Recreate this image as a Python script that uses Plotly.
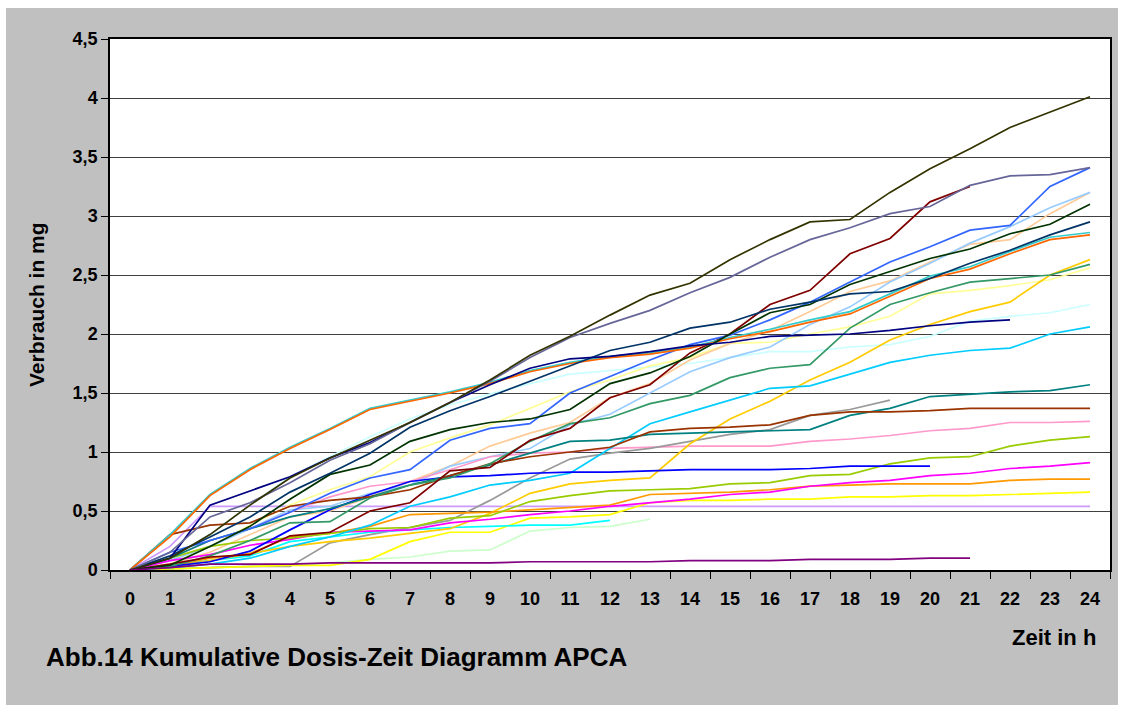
import plotly.graph_objects as go

hours = list(range(25))
hour_labels = [str(h) for h in hours]
y_tick_vals = [0, 0.5, 1, 1.5, 2, 2.5, 3, 3.5, 4, 4.5]
y_tick_text = ["0", "0,5", "1", "1,5", "2", "2,5", "3", "3,5", "4", "4,5"]

N = None
olive = [0, 0.1, 0.3, 0.55, 0.78, 0.95, 1.1, 1.25, 1.42, 1.61, 1.82, 1.98, 2.16, 2.33, 2.43, 2.63, 2.8, 2.95, 2.97, 3.2, 3.4, 3.57, 3.75, 3.88, 4.01]
slate = [0, 0.15, 0.45, 0.57, 0.74, 0.93, 1.07, 1.25, 1.42, 1.6, 1.8, 1.97, 2.09, 2.2, 2.35, 2.48, 2.65, 2.8, 2.9, 3.02, 3.08, 3.26, 3.34, 3.35, 3.41]
navy = [0, 0.1, 0.55, 0.67, 0.79, 0.95, 1.08, 1.25, 1.42, 1.57, 1.71, 1.79, 1.81, 1.85, 1.9, 1.93, 1.98, 1.99, 2.0, 2.03, 2.07, 2.1, 2.12, N, N]
orange_red = [0, 0.28, 0.63, 0.85, 1.03, 1.19, 1.36, 1.43, 1.5, 1.58, 1.68, 1.75, 1.8, 1.83, 1.88, 1.96, 2.02, 2.1, 2.17, 2.32, 2.47, 2.55, 2.68, 2.8, 2.84]
turquoise = [0, 0.3, 0.64, 0.86, 1.04, 1.2, 1.37, 1.44, 1.51, 1.59, 1.69, 1.76, 1.81, 1.84, 1.89, 1.97, 2.04, 2.12, 2.19, 2.34, 2.49, 2.57, 2.7, 2.82, 2.86]
dark_blue = [0, 0.12, 0.28, 0.45, 0.66, 0.82, 0.99, 1.21, 1.35, 1.47, 1.6, 1.73, 1.86, 1.93, 2.05, 2.1, 2.21, 2.27, 2.34, 2.36, 2.47, 2.6, 2.71, 2.84, 2.95]
dark_green = [0, 0.04, 0.2, 0.37, 0.6, 0.81, 0.89, 1.09, 1.19, 1.25, 1.28, 1.36, 1.58, 1.67, 1.81, 2.0, 2.18, 2.25, 2.42, 2.53, 2.64, 2.72, 2.85, 2.93, 3.1]
royal_blue = [0, 0.15, 0.25, 0.35, 0.49, 0.65, 0.78, 0.85, 1.1, 1.2, 1.24, 1.5, 1.64, 1.78, 1.91, 1.99, 2.12, 2.27, 2.44, 2.61, 2.74, 2.88, 2.92, 3.25, 3.41]
light_blue = [0, 0.08, 0.2, 0.35, 0.51, 0.54, 0.65, 0.72, 0.88, 0.96, 1.03, 1.23, 1.32, 1.5, 1.68, 1.8, 1.89, 2.08, 2.23, 2.44, 2.6, 2.77, 2.91, 3.07, 3.2]
peach = [0, 0.05, 0.15, 0.3, 0.45, 0.5, 0.62, 0.75, 0.88, 1.05, 1.16, 1.25, 1.46, 1.58, 1.78, 1.92, 2.03, 2.19, 2.36, 2.45, 2.61, 2.76, 2.8, 3.02, 3.2]
dark_red = [0, 0.05, 0.11, 0.13, 0.29, 0.32, 0.5, 0.57, 0.84, 0.87, 1.1, 1.2, 1.46, 1.57, 1.84, 2.0, 2.25, 2.37, 2.68, 2.81, 3.12, 3.25, N, N, N]
sea_green = [0, 0.03, 0.12, 0.25, 0.4, 0.41, 0.61, 0.72, 0.78, 0.9, 1.09, 1.24, 1.29, 1.41, 1.48, 1.63, 1.71, 1.74, 2.05, 2.25, 2.35, 2.44, 2.47, 2.5, 2.59]
light_yellow = [0, 0.05, 0.2, 0.38, 0.55, 0.68, 0.79, 1.0, 1.12, 1.23, 1.37, 1.51, 1.61, 1.73, 1.8, 1.92, 1.93, 2.0, 2.06, 2.15, 2.34, 2.37, 2.41, 2.46, 2.56]
light_cyan = [0, 0.1, 0.3, 0.55, 0.79, 0.96, 1.13, 1.28, 1.4, 1.49, 1.58, 1.66, 1.69, 1.72, 1.75, 1.8, 1.85, 1.85, 1.89, 1.91, 1.98, 2.11, 2.15, 2.18, 2.25]
gold = [0, 0.02, 0.08, 0.14, 0.2, 0.24, 0.27, 0.31, 0.35, 0.48, 0.65, 0.73, 0.76, 0.78, 1.07, 1.28, 1.43, 1.61, 1.76, 1.95, 2.08, 2.19, 2.27, 2.5, 2.63]
sky_blue = [0, 0.02, 0.05, 0.1, 0.2, 0.28, 0.38, 0.54, 0.62, 0.72, 0.76, 0.82, 1.03, 1.24, 1.34, 1.44, 1.54, 1.56, 1.66, 1.76, 1.82, 1.86, 1.88, 2.0, 2.06]
teal = [0, 0.1, 0.25, 0.35, 0.45, 0.52, 0.62, 0.72, 0.8, 0.89, 0.99, 1.09, 1.1, 1.15, 1.16, 1.17, 1.18, 1.19, 1.31, 1.37, 1.47, 1.49, 1.51, 1.52, 1.57]
brown = [0, 0.3, 0.38, 0.4, 0.54, 0.59, 0.62, 0.68, 0.8, 0.9, 0.96, 1.0, 1.04, 1.17, 1.2, 1.21, 1.23, 1.31, 1.34, 1.34, 1.35, 1.37, 1.37, 1.37, 1.37]
gray = [0, 0.01, 0.02, 0.03, 0.03, 0.23, 0.3, 0.36, 0.42, 0.59, 0.78, 0.94, 0.99, 1.03, 1.09, 1.15, 1.19, 1.31, 1.36, 1.44, N, N, N, N, N]
pink = [0, 0.1, 0.25, 0.35, 0.49, 0.62, 0.71, 0.75, 0.85, 0.96, 0.99, 1.0, 1.03, 1.04, 1.05, 1.05, 1.05, 1.09, 1.11, 1.14, 1.18, 1.2, 1.25, 1.25, 1.26]
blue = [0, 0.03, 0.07, 0.16, 0.34, 0.51, 0.64, 0.75, 0.79, 0.8, 0.82, 0.83, 0.83, 0.84, 0.85, 0.85, 0.85, 0.86, 0.88, 0.88, 0.88, N, N, N, N]
lavender = [0, 0.2, 0.54, 0.54, 0.54, 0.54, 0.54, 0.54, 0.54, 0.54, 0.54, 0.54, 0.54, 0.54, 0.54, 0.54, 0.54, 0.54, 0.54, 0.54, 0.54, 0.54, 0.54, 0.54, 0.54]
yellow_green = [0, 0.1, 0.2, 0.25, 0.27, 0.31, 0.35, 0.36, 0.44, 0.46, 0.58, 0.63, 0.67, 0.68, 0.69, 0.73, 0.74, 0.8, 0.81, 0.9, 0.95, 0.96, 1.05, 1.1, 1.13]
orange = [0, 0.03, 0.1, 0.14, 0.28, 0.31, 0.37, 0.47, 0.48, 0.49, 0.51, 0.53, 0.55, 0.64, 0.65, 0.66, 0.68, 0.71, 0.72, 0.73, 0.73, 0.73, 0.76, 0.77, 0.77]
magenta = [0, 0.08, 0.13, 0.21, 0.26, 0.32, 0.33, 0.34, 0.4, 0.43, 0.47, 0.5, 0.54, 0.57, 0.6, 0.64, 0.66, 0.71, 0.74, 0.76, 0.8, 0.82, 0.86, 0.88, 0.91]
yellow = [0, 0.01, 0.02, 0.03, 0.04, 0.04, 0.09, 0.24, 0.32, 0.32, 0.44, 0.45, 0.47, 0.57, 0.59, 0.59, 0.6, 0.6, 0.62, 0.62, 0.63, 0.63, 0.64, 0.65, 0.66]
cyan = [0, 0.04, 0.08, 0.12, 0.24, 0.28, 0.32, 0.34, 0.36, 0.37, 0.38, 0.38, 0.42, N, N, N, N, N, N, N, N, N, N, N, N]
light_green = [0, 0.01, 0.02, 0.03, 0.04, 0.06, 0.09, 0.11, 0.16, 0.17, 0.33, 0.36, 0.37, 0.43, N, N, N, N, N, N, N, N, N, N, N]
purple = [0, 0.02, 0.05, 0.05, 0.05, 0.06, 0.06, 0.06, 0.06, 0.06, 0.07, 0.07, 0.07, 0.07, 0.08, 0.08, 0.08, 0.09, 0.09, 0.09, 0.1, 0.1, N, N, N]

series = [
    ("Patient 1", lavender, "#CC99FF"),
    ("Patient 2", light_green, "#CCFFCC"),
    ("Patient 3", light_cyan, "#CCFFFF"),
    ("Patient 4", light_yellow, "#FFFF99"),
    ("Patient 5", peach, "#FFCC99"),
    ("Patient 6", light_blue, "#99CCFF"),
    ("Patient 7", pink, "#FF99CC"),
    ("Patient 8", gray, "#999999"),
    ("Patient 9", yellow, "#FFFF00"),
    ("Patient 10", cyan, "#00FFFF"),
    ("Patient 11", gold, "#FFCC00"),
    ("Patient 12", orange, "#FF9900"),
    ("Patient 13", magenta, "#FF00FF"),
    ("Patient 14", yellow_green, "#99CC00"),
    ("Patient 15", sky_blue, "#00CCFF"),
    ("Patient 16", blue, "#0000FF"),
    ("Patient 17", teal, "#008080"),
    ("Patient 18", brown, "#993300"),
    ("Patient 19", sea_green, "#339966"),
    ("Patient 20", dark_red, "#800000"),
    ("Patient 21", royal_blue, "#3366FF"),
    ("Patient 22", turquoise, "#33CCCC"),
    ("Patient 23", orange_red, "#FF6600"),
    ("Patient 24", dark_green, "#003300"),
    ("Patient 25", dark_blue, "#003366"),
    ("Patient 26", navy, "#000080"),
    ("Patient 27", slate, "#666699"),
    ("Patient 28", olive, "#333300"),
    ("Patient 29", purple, "#800080"),
]

fig = go.Figure()
for name, vals, col in series:
    fig.add_trace(go.Scatter(x=hour_labels, y=vals, mode="lines", name=name,
                             line=dict(color=col, width=1.7), connectgaps=False,
                             showlegend=False))

W, H = 1123, 711
L, R, T, B = 110, 1110, 39, 570
pw, ph = R - L, B - T

def px(x):
    return (x - L) / pw

def py(y):
    return (B - y) / ph

def white_strip(x0, x1, y0, y1):
    return dict(type="rect", xref="paper", yref="paper", layer="below",
                x0=px(x0), x1=px(x1), y0=py(y1), y1=py(y0),
                fillcolor="white", line=dict(width=0))

font_family = "Arial, Liberation Sans, sans-serif"
fig.update_layout(
    width=W, height=H,
    margin=dict(l=L, r=W - R, t=T, b=H - B),
    paper_bgcolor="#C0C0C0",
    plot_bgcolor="white",
    font=dict(family=font_family, color="black"),
    shapes=[
        white_strip(0, W, 0, 8),
        white_strip(0, W, 705, H),
        white_strip(0, 6, 0, H),
        white_strip(1118, W, 0, H),
    ],
    xaxis=dict(type="category", range=[-0.5, 24.5], tickson="boundaries",
               ticks="outside", ticklen=7, tickcolor="black", tickwidth=1,
               showline=True, linecolor="black", linewidth=1.5, mirror=True,
               showgrid=False, ticklabelstandoff=12,
               tickfont=dict(size=18, weight="bold", family=font_family)),
    yaxis=dict(range=[0, 4.5], tickvals=y_tick_vals, ticktext=y_tick_text,
               ticks="outside", ticklen=7, tickcolor="black",
               showline=True, linecolor="black", linewidth=1.5, mirror=True,
               showgrid=True, gridcolor="#404040", gridwidth=1, zeroline=False,
               tickfont=dict(size=18, weight="bold", family=font_family)),
    annotations=[
        dict(text="Verbrauch in mg", xref="paper", yref="paper", x=px(36), y=py(305),
             textangle=-90, showarrow=False, xanchor="center", yanchor="middle",
             font=dict(size=21, weight="bold", family=font_family)),
        dict(text="Zeit in h", xref="paper", yref="paper", x=px(1098), y=py(637),
             showarrow=False, xanchor="right", yanchor="middle",
             font=dict(size=22, weight="bold", family=font_family)),
        dict(text="Abb.14 Kumulative Dosis-Zeit Diagramm APCA", xref="paper", yref="paper",
             x=px(44), y=py(657), showarrow=False, xanchor="left", yanchor="middle",
             font=dict(size=26, weight="bold", family=font_family)),
    ],
)

fig.write_html("out.html")
